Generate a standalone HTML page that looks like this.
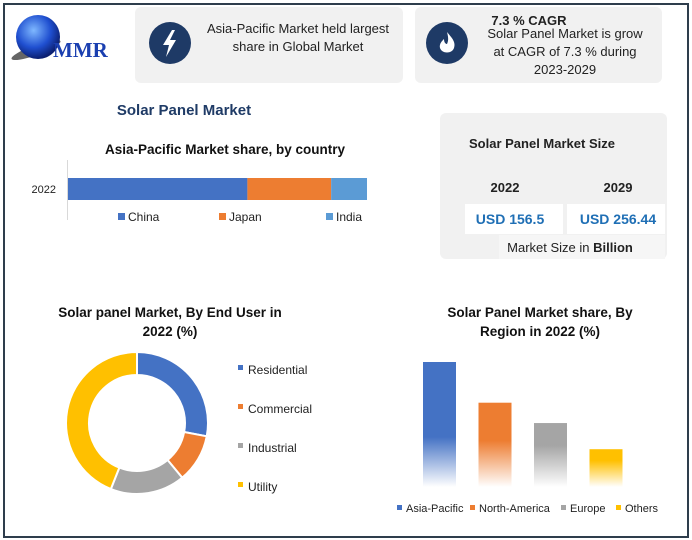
<!DOCTYPE html>
<html><head><meta charset="utf-8"><style>
body{margin:0;background:#fff;font-family:"Liberation Sans",sans-serif;}
#frame{position:absolute;left:3px;top:3px;width:682px;height:531px;border:2px solid #2e3d4c;background:#fff;overflow:hidden}
</style></head><body>
<div id="frame"></div>
<svg width="692" height="540" style="position:absolute;left:0;top:0">
<defs>
<radialGradient id="globe" cx="40%" cy="35%" r="65%"><stop offset="0" stop-color="#7fb8ff"/><stop offset="0.6" stop-color="#1f4fd0"/><stop offset="1" stop-color="#0b1f70"/></radialGradient>
<linearGradient id="gb" x1="0" y1="0" x2="0" y2="1"><stop offset="0.6" stop-color="#4472c4"/><stop offset="1" stop-color="#4472c4" stop-opacity="0"/></linearGradient>
<linearGradient id="go" x1="0" y1="0" x2="0" y2="1"><stop offset="0.45" stop-color="#ed7d31"/><stop offset="1" stop-color="#ed7d31" stop-opacity="0"/></linearGradient>
<linearGradient id="gg" x1="0" y1="0" x2="0" y2="1"><stop offset="0.35" stop-color="#a5a5a5"/><stop offset="1" stop-color="#a5a5a5" stop-opacity="0"/></linearGradient>
<linearGradient id="gy" x1="0" y1="0" x2="0" y2="1"><stop offset="0.3" stop-color="#ffc000"/><stop offset="1" stop-color="#ffc000" stop-opacity="0"/></linearGradient>
</defs>
<g>
<ellipse cx="36" cy="50" rx="26" ry="5" fill="#666" transform="rotate(-20 36 50)"/>
<circle cx="38" cy="37" r="22" fill="url(#globe)"/>
<text x="53" y="57" font-family="Liberation Serif" font-weight="bold" font-size="21" fill="#1a3fb0">MMR</text>
</g>
<rect x="135" y="7" width="268" height="76" rx="6" fill="#f1f1f1"/>
<circle cx="170" cy="43" r="21" fill="#1e3a66"/>
<path d="M172 30 L163 45 L169 45 L166 57 L176 40 L170 40 L175 30Z" fill="#fff"/>
<text x="298" y="33" text-anchor="middle" font-size="13" fill="#222"><tspan x="298">Asia-Pacific Market held largest</tspan><tspan x="298" dy="18">share in Global Market</tspan></text>
<rect x="415" y="7" width="247" height="76" rx="6" fill="#f1f1f1"/>
<circle cx="447" cy="43" r="21" fill="#1e3a66"/>
<path d="M447 32 C452 38 456 42 454 48 C452 54 442 54 440 48 C439 44 442 41 444 39 C444 43 446 44 447 44 C449 40 448 36 447 32Z" fill="#fff"/>
<text x="529" y="25" text-anchor="middle" font-size="13" font-weight="bold" fill="#222">7.3 % CAGR</text>
<text x="565" y="38" text-anchor="middle" font-size="13" fill="#222"><tspan x="565">Solar Panel Market is grow</tspan><tspan x="565" dy="18">at CAGR of 7.3 % during</tspan><tspan x="565" dy="18">2023-2029</tspan></text>
<text x="184" y="115" text-anchor="middle" font-size="15" font-weight="bold" fill="#1f3b66">Solar Panel Market</text>
<rect x="440" y="113" width="227" height="146" rx="6" fill="#f1f1f1"/>
<text x="542" y="148" text-anchor="middle" font-size="13" font-weight="bold" fill="#222">Solar Panel Market Size</text>
<text x="505" y="192" text-anchor="middle" font-size="13" font-weight="bold" fill="#222">2022</text>
<text x="618" y="192" text-anchor="middle" font-size="13" font-weight="bold" fill="#222">2029</text>
<rect x="465" y="204" width="98" height="30" fill="#fff"/><rect x="567" y="204" width="98" height="30" fill="#fff"/>
<text x="510" y="224" text-anchor="middle" font-size="14" font-weight="bold" fill="#1f6fb5">USD 156.5</text>
<text x="618" y="224" text-anchor="middle" font-size="14" font-weight="bold" fill="#1f6fb5">USD 256.44</text>
<rect x="499" y="235" width="166" height="24" fill="#f6f6f6"/>
<text x="570" y="252" text-anchor="middle" font-size="13" fill="#222">Market Size in <tspan font-weight="bold">Billion</tspan></text>
<text x="225" y="154" text-anchor="middle" font-size="13.5" font-weight="bold" fill="#111">Asia-Pacific Market share, by country</text>
<line x1="67.5" y1="160" x2="67.5" y2="220" stroke="#d9d9d9"/>
<text x="56" y="193" text-anchor="end" font-size="11" fill="#222">2022</text>
<g id="stack"></g>
<g id="stackLegend"></g>
<text x="170" y="317" text-anchor="middle" font-size="13.5" font-weight="bold" fill="#111"><tspan x="170">Solar panel Market, By End User in</tspan><tspan x="170" dy="19">2022 (%)</tspan></text>
<g id="donut"></g><g id="donutLegend"></g>
<text x="540" y="317" text-anchor="middle" font-size="13.5" font-weight="bold" fill="#111"><tspan x="540">Solar Panel Market share, By</tspan><tspan x="540" dy="19">Region in 2022 (%)</tspan></text>
<g id="bars"></g><g id="barLegend"></g>
</svg>
<script>
const ns="http://www.w3.org/2000/svg";
const countries=["China","Japan","India"];
const countryShare=[60,28,12];
const countryColors=["#4472c4","#ed7d31","#5b9bd5"];
const endUsers=["Residential","Commercial","Industrial","Utility"];
const endUserShare=[28,11,17,44];
const endUserColors=["#4472c4","#ed7d31","#a5a5a5","#ffc000"];
const regions=["Asia-Pacific","North-America","Europe","Others"];
const regionShare=[43,29,22,13];
const regionColors=["#4472c4","#ed7d31","#a5a5a5","#ffc000"];
const regionFills=["url(#gb)","url(#go)","url(#gg)","url(#gy)"];
function mk(tag,attrs,parent){const e=document.createElementNS(ns,tag);for(const k in attrs)e.setAttribute(k,attrs[k]);parent.appendChild(e);return e;}
const sx=v=>68+v/100*299;
let acc=0;const st=document.getElementById('stack'),sl=document.getElementById('stackLegend');
const legX=[118,219,326];
countryShare.forEach((v,i)=>{
 const r=mk('rect',{x:sx(acc),y:178,width:sx(acc+v)-sx(acc),height:22,fill:countryColors[i]},st);
 
 
 acc+=v;
 const g=mk('g',{},sl);
 
 
 mk('rect',{x:legX[i],y:213,width:7,height:7,fill:countryColors[i]},g);
 const t=mk('text',{x:legX[i]+10,y:221,'font-size':12,fill:'#222'},g);t.textContent=countries[i];
});
const cx=137,cy=423,R=71,r0=48;const dg=document.getElementById('donut'),dl=document.getElementById('donutLegend');
const tot=endUserShare.reduce((a,b)=>a+b,0);let a0=0;
function pt(a,rr){return [cx+rr*Math.sin(a),cy-rr*Math.cos(a)];}
endUserShare.forEach((v,i)=>{
 const a1=a0+v/tot*2*Math.PI;const L=(a1-a0)>Math.PI?1:0;
 const p1=pt(a0,R),p2=pt(a1,R),p3=pt(a1,r0),p4=pt(a0,r0);
 const p=mk('path',{d:`M${p1}A${R},${R} 0 ${L} 1 ${p2}L${p3}A${r0},${r0} 0 ${L} 0 ${p4}Z`,fill:endUserColors[i],stroke:'#fff','stroke-width':2},dg);
 
 
 a0=a1;
 const g=mk('g',{},dl);
 
 
 const y=370+i*39;
 mk('rect',{x:238,y:y-5,width:5,height:5,fill:endUserColors[i]},g);
 const t=mk('text',{x:248,y:y+4,'font-size':12,fill:'#222'},g);t.textContent=endUsers[i];
});
const base=487,ys=v=>base-v/43*125;const bg=document.getElementById('bars'),bl=document.getElementById('barLegend');
const bx=i=>423+i*55.5;const lx=[397,470,561,616];
regionShare.forEach((v,i)=>{
 const r=mk('rect',{x:bx(i),y:ys(v),width:33,height:base-ys(v),fill:regionFills[i]},bg);
 
 
 const g=mk('g',{},bl);
 
 
 mk('rect',{x:lx[i],y:505,width:5,height:5,fill:regionColors[i]},g);
 const t=mk('text',{x:lx[i]+9,y:512,'font-size':11,fill:'#222'},g);t.textContent=regions[i];
});
</script>
</body></html>
